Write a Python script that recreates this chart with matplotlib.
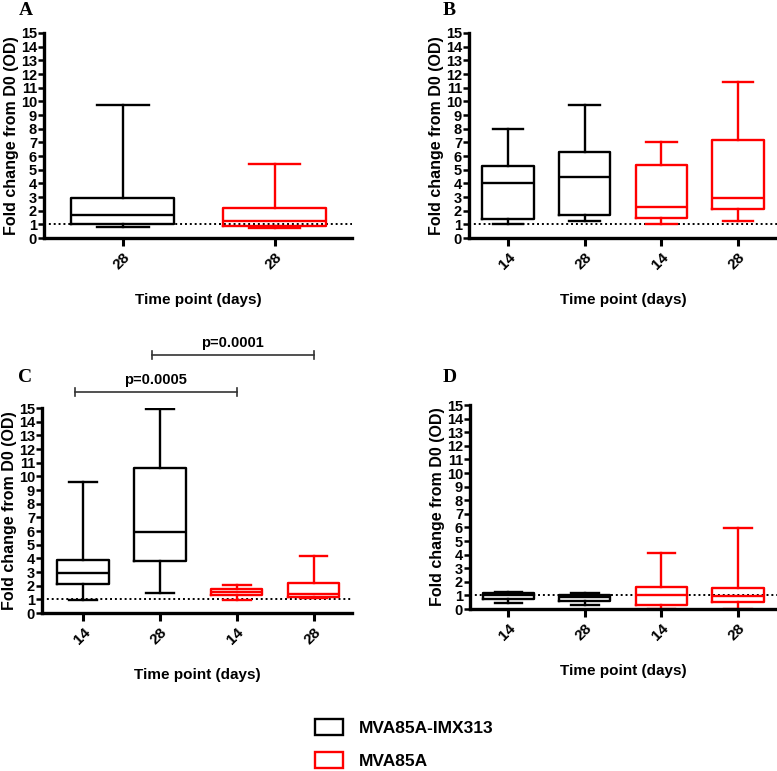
import matplotlib
matplotlib.use('Agg')
import matplotlib.pyplot as plt
from matplotlib.patches import Patch

plt.rcParams['font.family'] = ['Liberation Sans', 'DejaVu Sans']
plt.rcParams['font.weight'] = 'bold'

groups = ['MVA85A-IMX313', 'MVA85A']
group_colors = {'MVA85A-IMX313': 'black', 'MVA85A': 'red'}

# Panel A - day 28 only
a_ticks = ['28', '28']
a_group = ['MVA85A-IMX313', 'MVA85A']
a_low = [0.8, 0.75]
a_q1 = [1.0, 0.9]
a_med = [1.65, 1.25]
a_q3 = [2.9, 2.2]
a_high = [9.75, 5.45]

# Panel B
b_ticks = ['14', '28', '14', '28']
b_group = ['MVA85A-IMX313', 'MVA85A-IMX313', 'MVA85A', 'MVA85A']
b_low = [1.0, 1.25, 1.0, 1.25]
b_q1 = [1.4, 1.65, 1.5, 2.1]
b_med = [4.0, 4.5, 2.3, 2.9]
b_q3 = [5.3, 6.3, 5.35, 7.2]
b_high = [7.95, 9.75, 7.0, 11.45]

# Panel C
c_ticks = ['14', '28', '14', '28']
c_group = ['MVA85A-IMX313', 'MVA85A-IMX313', 'MVA85A', 'MVA85A']
c_low = [0.95, 1.45, 0.95, 1.1]
c_q1 = [2.1, 3.8, 1.35, 1.2]
c_med = [2.95, 5.95, 1.55, 1.4]
c_q3 = [3.9, 10.6, 1.75, 2.2]
c_high = [9.6, 14.9, 2.05, 4.2]
c_pvals = [(0, 2, 'p=0.0005', 16.2), (1, 3, 'p=0.0001', 18.9)]

# Panel D
d_ticks = ['14', '28', '14', '28']
d_group = ['MVA85A-IMX313', 'MVA85A-IMX313', 'MVA85A', 'MVA85A']
d_low = [0.45, 0.3, 0.0, 0.0]
d_q1 = [0.75, 0.6, 0.3, 0.5]
d_med = [1.0, 0.85, 1.05, 0.95]
d_q3 = [1.17, 1.03, 1.6, 1.55]
d_high = [1.25, 1.17, 4.1, 5.95]

fig = plt.figure(figsize=(7.77, 7.71), dpi=100)


def panel(rect, xlim, ticks, grp, low, q1, med, q3, high, width, capw):
    ax = fig.add_axes(rect)
    for i in range(len(ticks)):
        st = [dict(whislo=low[i], q1=q1[i], med=med[i], q3=q3[i],
                   whishi=high[i], fliers=[])]
        c = group_colors[grp[i]]
        ax.bxp(st, positions=[i], widths=width, capwidths=capw,
               showfliers=False, manage_ticks=False,
               boxprops=dict(color=c, lw=1.7),
               medianprops=dict(color=c, lw=1.7),
               whiskerprops=dict(color=c, lw=1.7),
               capprops=dict(color=c, lw=1.7))
    ax.axhline(1, ls=(0, (1, 1.5)), color='black', lw=1.4, zorder=0)
    ax.set_xlim(*xlim)
    ax.set_ylim(0, 15)
    ax.set_yticks(range(16))
    ax.set_xticks(range(len(ticks)))
    ax.set_xticklabels(ticks, rotation=45, ha='right', rotation_mode='anchor',
                       fontsize=11, fontweight='bold')
    for lab in ax.get_yticklabels():
        lab.set_fontsize(10.5)
        lab.set_fontweight('bold')
    ax.spines['top'].set_visible(False)
    ax.spines['right'].set_visible(False)
    ax.spines['left'].set_linewidth(2.4)
    ax.spines['bottom'].set_linewidth(2.4)
    ax.tick_params(axis='y', length=4, width=1.8, pad=1)
    ax.tick_params(axis='x', length=6, width=2.2, pad=3)
    ax.set_ylabel('Fold change from D0 (OD)', fontsize=11.5, fontweight='bold', labelpad=1)
    ax.set_xlabel('Time point (days)', fontsize=11, fontweight='bold')
    ax.xaxis.set_label_coords(0.5, -0.27)
    ax.set_facecolor('none')
    return ax


axA = panel([0.0566, 0.6913, 0.3964, 0.2659], (-0.52, 1.51), a_ticks, a_group,
            a_low, a_q1, a_med, a_q3, a_high, 0.68, 0.34)
axB = panel([0.6036, 0.6913, 0.3964, 0.2659], (-0.51, 3.51), b_ticks, b_group,
            b_low, b_q1, b_med, b_q3, b_high, 0.67, 0.4)
axC = panel([0.0541, 0.2049, 0.3990, 0.2659], (-0.53, 3.5), c_ticks, c_group,
            c_low, c_q1, c_med, c_q3, c_high, 0.67, 0.36)
axD = panel([0.6049, 0.2101, 0.3951, 0.2646], (-0.5, 3.51), d_ticks, d_group,
            d_low, d_q1, d_med, d_q3, d_high, 0.67, 0.36)

# significance brackets on panel C
for x0, x1, txt, y in c_pvals:
    axC.plot([x0 - 0.1, x1], [y, y], color='#333333', lw=1.2, clip_on=False)
    for xe in (x0 - 0.1, x1):
        axC.plot([xe, xe], [y - 0.3, y + 0.3], color='#333333', lw=1.2, clip_on=False)
    axC.text((x0 - 0.1 + x1) / 2, y + 0.35, txt, ha='center', va='bottom',
             fontsize=10.5, fontweight='bold')

# panel letters
for x, y, s in [(19, 15, 'A'), (443, 15, 'B'), (18, 382, 'C'), (443, 382, 'D')]:
    fig.text(x / 777, 1 - y / 771, s, family='Liberation Serif', fontsize=14,
             fontweight='bold', va='baseline', ha='left')

handles = [Patch(facecolor='white', edgecolor=group_colors[g], lw=1.7) for g in groups]
fig.legend(handles, groups, loc='center', bbox_to_anchor=(0.52, 0.035),
           frameon=False, handlelength=1.6, handleheight=1.0,
           labelspacing=0.95, handletextpad=0.9,
           prop=dict(weight='bold', size=12.5))

fig.savefig('out.png', dpi=100)
